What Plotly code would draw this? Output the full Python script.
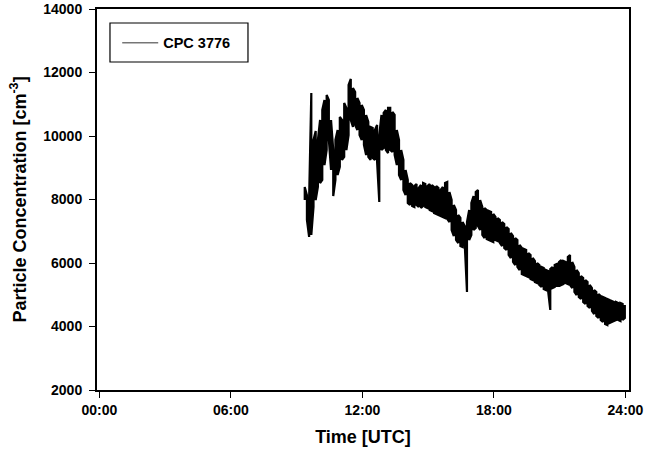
import numpy as np
import plotly.graph_objects as go

# CPC 3776 particle number concentration: upper and lower edge of the signal
# in consecutive 0.1 h (6 min) windows, starting at 09:22 UTC.
start_hour = 9.37
step_hour = 0.1
conc_upper = [
    8390, 8140, 8048, 11355, 9875, 10160, 9875, 10505, 10820, 11135,
    11290, 11135, 10505, 9560, 9875, 10190, 10600, 10505, 11040, 10883,
    11610, 11795, 11512, 11387, 11198, 11040, 10978, 10820, 10662, 10442,
    10285, 10253, 10190, 10348, 10032, 10662, 10725, 10820, 10883, 10883,
    10757, 10662, 10190, 9875, 9560, 9245, 8930, 8615, 8520, 8457,
    8425, 8490, 8365, 8457, 8520, 8490, 8425, 8490, 8457, 8395,
    8425, 8365, 8300, 8395, 8520, 8550, 8237, 7985, 7827, 7670,
    7512, 7418, 7292, 7166, 7292, 7670, 7890, 8110, 8237, 8300,
    7985, 7765, 7733, 7670, 7638, 7607, 7544, 7450, 7418, 7355,
    7292, 7229, 7134, 7071, 6945, 6850, 6788, 6725, 6567, 6473,
    6441, 6410, 6315, 6252, 6158, 6063, 6000, 5937, 5874, 5843,
    5780, 5748, 5811, 5874, 5937, 5969, 6032, 6095, 6063, 6032,
    6190, 6252, 6032, 5874, 5780, 5685, 5591, 5528, 5465, 5402,
    5307, 5213, 5150, 5087, 5024, 4961, 4929, 4898, 4866, 4835,
    4803, 4772, 4772, 4740, 4740, 4709, 4677,
]
conc_lower = [
    7985, 7355, 6820, 6882, 7765, 7985, 8395, 8520, 8615, 9087,
    9560, 9875, 8930, 8110, 8615, 8772, 9025, 9245, 9340, 9560,
    10030, 10505, 10285, 10348, 10190, 10030, 9875, 9718, 9402, 9340,
    9245, 9308, 9245, 9182, 7922, 9560, 9623, 9560, 9465, 9560,
    9497, 9402, 9087, 8772, 8615, 8300, 8142, 7890, 7827, 7795,
    7765, 7827, 7765, 7733, 7795, 7765, 7733, 7670, 7638, 7575,
    7544, 7512, 7480, 7450, 7418, 7387, 7292, 7040, 6850, 6725,
    6630, 6536, 6505, 6567, 5087, 6725, 6882, 7040, 7103, 7166,
    7040, 6882, 6788, 6756, 6725, 6693, 6662, 6725, 6693, 6630,
    6536, 6473, 6410, 6252, 6158, 6032, 5937, 5874, 5780, 5654,
    5622, 5591, 5559, 5496, 5465, 5402, 5370, 5307, 5244, 5181,
    5150, 5118, 4520, 5213, 5244, 5276, 5276, 5307, 5339, 5370,
    5339, 5307, 5213, 5087, 4992, 4929, 4866, 4772, 4709, 4646,
    4583, 4488, 4394, 4331, 4268, 4205, 4142, 4079, 4047, 4110,
    4142, 4173, 4205, 4205, 4173, 4205, 4268,
]

x_tick_hours = [0, 6, 12, 18, 24]
x_tick_labels = ["00:00", "06:00", "12:00", "18:00", "24:00"]
y_ticks = [2000, 4000, 6000, 8000, 10000, 12000, 14000]

font_family = "Liberation Sans, Arial, sans-serif"


def bold(items):
    return [f"<b>{t}</b>" for t in items]


# Trace each window as a vertical stroke from one edge to the other,
# alternating direction so neighbouring windows join along the same edge.
window_hours = start_hour + step_hour * np.arange(len(conc_upper))
trace_x, trace_y = [], []
for i, (t, lo, hi) in enumerate(zip(window_hours, conc_lower, conc_upper)):
    pair = (lo, hi) if i % 2 == 0 else (hi, lo)
    trace_x.extend([t, t])
    trace_y.extend(pair)

fig = go.Figure()
fig.add_trace(go.Scatter(
    x=trace_x,
    y=trace_y,
    mode="lines",
    name="CPC 3776",
    showlegend=False,
    line=dict(color="black", width=2.2),
))
# Legend entry drawn with the nominal 1 px line
fig.add_trace(go.Scatter(
    x=[None],
    y=[None],
    mode="lines",
    name="<b>CPC 3776</b>",
    line=dict(color="#333333", width=1),
))

axis_common = dict(
    showline=True,
    linecolor="black",
    linewidth=2,
    mirror=True,
    ticks="outside",
    ticklen=6,
    tickwidth=1,
    tickcolor="black",
    showgrid=False,
    zeroline=False,
    automargin=False,
    tickfont=dict(family=font_family, size=14, color="black"),
)

fig.update_layout(
    width=646,
    height=459,
    margin=dict(l=97, r=17, t=9, b=69),
    paper_bgcolor="white",
    plot_bgcolor="white",
    font=dict(family=font_family, color="black"),
    xaxis=dict(
        axis_common,
        range=[-0.105, 24.16],
        tickvals=x_tick_hours,
        ticktext=bold(x_tick_labels),
        title=dict(text="<b>Time [UTC]</b>", font=dict(size=18), standoff=14),
    ),
    yaxis=dict(
        axis_common,
        range=[2000, 14000],
        tickvals=y_ticks,
        ticktext=bold(y_ticks),
        ticklabelstandoff=4,
        title=dict(text="<b>Particle Concentration [cm<sup>-3</sup>]</b>",
                   font=dict(size=18), standoff=12),
    ),
    showlegend=True,
    legend=dict(
        x=0.038, y=0.911, xanchor="left", yanchor="middle",
        bgcolor="rgba(0,0,0,0)", borderwidth=0,
        itemwidth=36,
        font=dict(family=font_family, size=14.5, color="black"),
    ),
    # legend frame
    shapes=[dict(
        type="rect", xref="paper", yref="paper",
        x0=0.0244, x1=0.2838, y0=0.8609, y1=0.9633,
        line=dict(color="black", width=1.2), fillcolor="white", layer="below",
    )],
)

fig.write_html("out.html")
